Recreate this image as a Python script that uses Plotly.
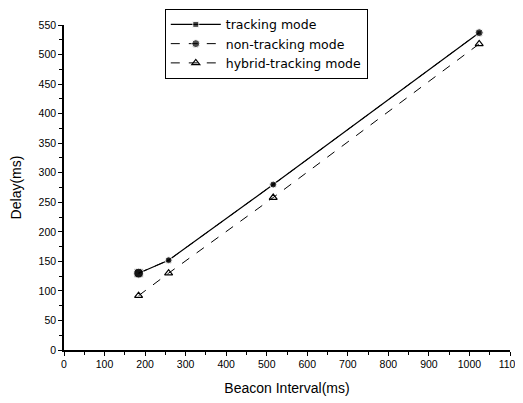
import plotly.graph_objects as go

beacon_interval = [184, 258, 516, 1024]
tracking = [130, 152, 280, 537]
non_tracking = [130, 152, 280, 537]
hybrid = [92, 130, 258, 518]

FONT = "Liberation Sans, Arial"

fig = go.Figure()
fig.add_trace(go.Scatter(x=beacon_interval, y=tracking, name="tracking mode", mode="lines+markers",
                         line=dict(color="black", width=1.2),
                         marker=dict(symbol="square", size=[9, 5, 5, 5], color="black")))
fig.add_trace(go.Scatter(x=beacon_interval, y=non_tracking, name="non-tracking mode", mode="lines+markers",
                         line=dict(color="black", width=1, dash="dash"),
                         marker=dict(symbol="circle", size=[10, 7, 7, 8], color="black")))
fig.add_trace(go.Scatter(x=beacon_interval, y=hybrid, name="hybrid-tracking mode", mode="lines+markers",
                         line=dict(color="black", width=1, dash="dash"),
                         marker=dict(symbol="triangle-up-open", size=7, color="black", line=dict(width=1.2))))

axis_common = dict(showline=True, linecolor="black", linewidth=1.5, ticks="outside", ticklen=4,
                   tickcolor="black", showgrid=False, zeroline=False, mirror=False, automargin=False,
                   ticklabeloverflow="allow",
                   tickfont=dict(family="Liberation Sans, Arial", size=10.5, color="black"))
fig.update_xaxes(range=[0, 1100], dtick=100, tick0=0,
                 minor=dict(ticks="outside", dtick=50, ticklen=3, tickcolor="black"),
                 title=dict(text="Beacon Interval(ms)", font=dict(family=FONT, size=14, color="black"), standoff=14),
                 **axis_common)
fig.update_yaxes(range=[0, 550], dtick=50, tick0=0,
                 minor=dict(ticks="outside", dtick=25, ticklen=3, tickcolor="black"),
                 title=dict(text="Delay(ms)", font=dict(family=FONT, size=14, color="black"), standoff=14),
                 **axis_common)
fig.update_layout(width=523, height=403, margin=dict(l=56, r=21, t=17, b=61, autoexpand=False),
                  paper_bgcolor="white", plot_bgcolor="white",
                  legend=dict(x=0.226, y=1.05, xanchor="left", yanchor="top", bgcolor="white",
                              bordercolor="black", borderwidth=1,
                              font=dict(family="DejaVu Sans", size=12.5, color="black"),
                              tracegroupgap=0, itemwidth=50),
                  showlegend=True)
fig.write_html("out.html")
